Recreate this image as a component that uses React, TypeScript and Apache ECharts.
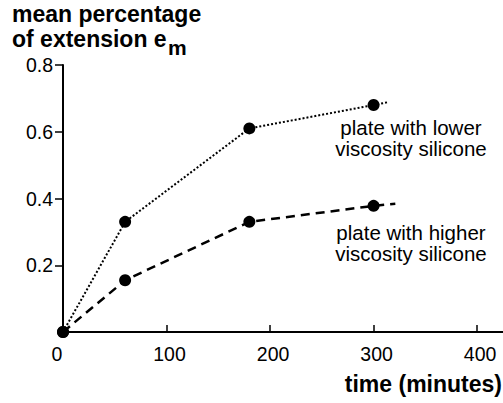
import React, { useEffect, useRef } from "react";
import * as echarts from "echarts";

const FONT = "Liberation Sans, Arial, Helvetica, sans-serif";

// time (minutes) and mean percentage of extension
const timeLower = [0, 60, 180, 300];
const extLower = [0, 0.33, 0.61, 0.68];
const tailLower = [313, 0.688]; // line continues past last point, no marker

const timeHigher = [0, 60, 180, 300];
const extHigher = [0, 0.155, 0.33, 0.378];
const tailHigher = [321, 0.384];

const xMin = 0;
const xMax = 425;
const xStep = 100;
const yMin = 0;
const yMax = 0.8;
const yStep = 0.2;

const yTitleLines = ["mean percentage", "of extension e"];
const yTitleSub = "m";
const xTitle = "time (minutes)";
const lowerLabel = ["plate with lower", "viscosity silicone"];
const higherLabel = ["plate with higher", "viscosity silicone"];

function buildData(xs: number[], ys: number[], tail: number[]) {
  const d: any[] = xs.map((x, i) => [x, ys[i]]);
  d.push({ value: tail, symbol: "none" });
  return d;
}

function centeredLine(text: string, y: number) {
  return {
    type: "text",
    x: 411,
    y,
    style: {
      text,
      fontSize: 20.5,
      fontFamily: FONT,
      fill: "#000",
      align: "center",
      verticalAlign: "middle",
    },
  };
}

export default function App() {
  const ref = useRef<HTMLDivElement>(null);
  useEffect(() => {
    if (!ref.current) return;
    const chart = echarts.init(ref.current, undefined, { renderer: "svg" });
    const labelStyle = { fontSize: 19.5, color: "#000", fontFamily: FONT };
    chart.setOption({
      animation: false,
      backgroundColor: "#fff",
      textStyle: { fontFamily: FONT },
      grid: { left: 63, right: 0, top: 65, bottom: 71, containLabel: false },
      xAxis: {
        type: "value",
        min: xMin,
        max: xMax,
        interval: xStep,
        splitLine: { show: false },
        axisLine: { show: true, lineStyle: { color: "#000", width: 2 } },
        axisTick: { show: true, inside: true, length: 7, lineStyle: { color: "#000", width: 1.5 } },
        axisLabel: {
          ...labelStyle,
          margin: 12,
          showMaxLabel: false,
          formatter: (v: number) =>
            v % xStep !== 0 ? "" : v === 0 ? "{z|0}" : "{n|" + v + "}",
          rich: {
            z: { ...labelStyle, padding: [0, 12, 0, 0] },
            n: { ...labelStyle, padding: [0, 0, 0, 6] },
          },
        },
      },
      yAxis: {
        type: "value",
        min: yMin,
        max: yMax,
        interval: yStep,
        splitLine: { show: false },
        axisLine: { show: true, lineStyle: { color: "#000", width: 2 } },
        axisTick: { show: true, inside: false, length: 8, lineStyle: { color: "#000", width: 1.5 } },
        axisLabel: {
          ...labelStyle,
          margin: 10,
          showMinLabel: false,
          padding: [8, 0, 0, 0],
          formatter: (v: number) => v.toFixed(1),
        },
      },
      series: [
        {
          type: "line",
          data: buildData(timeLower, extLower, tailLower),
          symbol: "circle",
          symbolSize: 12,
          itemStyle: { color: "#000" },
          lineStyle: { color: "#000", width: 2, type: [2, 2] },
          z: 3,
        },
        {
          type: "line",
          data: buildData(timeHigher, extHigher, tailHigher),
          symbol: "circle",
          symbolSize: 12,
          itemStyle: { color: "#000" },
          lineStyle: { color: "#000", width: 2.5, type: [9, 6] },
          z: 3,
        },
      ],
      graphic: [
        {
          type: "text",
          left: 12,
          top: 2,
          style: {
            text: yTitleLines[0],
            fontSize: 23,
            fontWeight: "bold",
            fontFamily: FONT,
            fill: "#000",
          },
        },
        {
          type: "text",
          left: 12,
          top: 27,
          style: {
            text: yTitleLines[1],
            fontSize: 23,
            fontWeight: "bold",
            fontFamily: FONT,
            fill: "#000",
          },
        },
        {
          type: "text",
          left: 168,
          top: 37,
          style: {
            text: yTitleSub,
            fontSize: 21,
            fontWeight: "bold",
            fontFamily: FONT,
            fill: "#000",
          },
        },
        {
          type: "text",
          right: 1,
          top: 372,
          style: {
            text: xTitle,
            fontSize: 23,
            fontWeight: "bold",
            fontFamily: FONT,
            fill: "#000",
          },
        },
        centeredLine(lowerLabel[0], 127.5),
        centeredLine(lowerLabel[1], 148.5),
        centeredLine(higherLabel[0], 232.5),
        centeredLine(higherLabel[1], 253.5),
      ],
    });
    return () => chart.dispose();
  }, []);
  return (
    <div
      ref={ref}
      style={{ position: "fixed", left: 0, top: 0, width: 503, height: 403 }}
    />
  );
}
